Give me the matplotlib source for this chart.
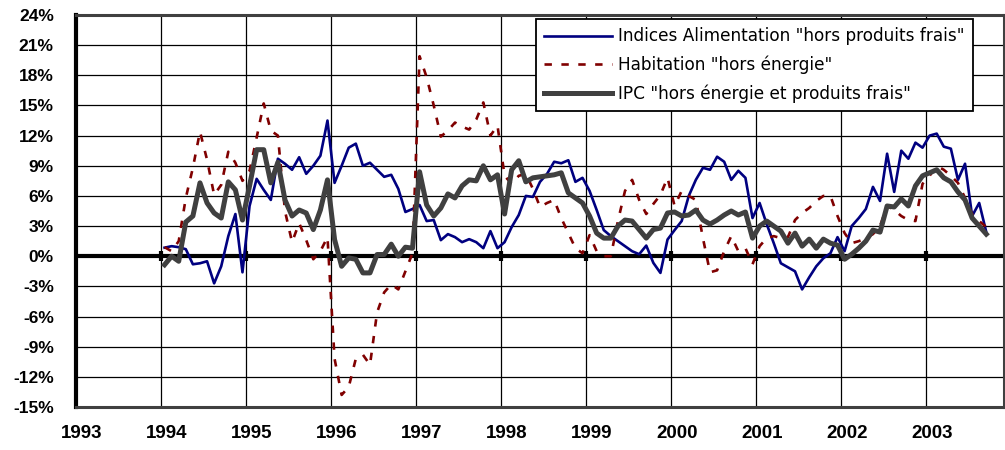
import numpy as np
import matplotlib
matplotlib.use('Agg')
import matplotlib.pyplot as plt
from matplotlib.transforms import ScaledTranslation

# monthly year-on-year changes (%), Jan 1994 -> Sep 2003
alimentation = [
    0.85, 1.0, 0.9, 0.7, -0.8, -0.7, -0.5, -2.7, -1.0, 2.0, 4.2, -1.6,      # 1994
    5.0, 7.7, 6.6, 5.6, 9.7, 9.2, 8.6, 9.85, 8.2, 9.0, 10.0, 13.5,         # 1995
    7.3, 9.0, 10.8, 11.2, 9.0, 9.3, 8.6, 7.9, 8.1, 6.7, 4.4, 4.7,          # 1996
    5.1, 3.5, 3.6, 1.6, 2.2, 1.9, 1.4, 1.7, 1.4, 0.8, 2.5, 0.8,            # 1997
    1.4, 2.9, 4.1, 6.0, 5.9, 7.4, 8.2, 9.4, 9.25, 9.55, 7.4, 7.8,          # 1998
    6.5, 4.6, 2.6, 2.0, 1.5, 1.0, 0.5, 0.2, 1.06, -0.66, -1.66, 1.66,      # 1999
    2.6, 3.5, 6.0, 7.6, 8.8, 8.6, 9.9, 9.4, 7.6, 8.5, 7.8, 3.8,            # 2000
    5.3, 3.2, 1.3, -0.7, -1.1, -1.5, -3.3, -2.1, -1.0, -0.2, 0.3, 1.9,     # 2001
    0.5, 3.0, 3.8, 4.7, 6.9, 5.5, 10.2, 6.4, 10.5, 9.7, 11.3, 10.8,        # 2002
    12.0, 12.2, 10.9, 10.7, 7.6, 9.2, 4.0, 5.3, 2.4,                       # 2003
]
habitation = [
    0.9, 0.5, 1.5, 5.8, 8.8, 12.4, 9.6, 6.1, 7.1, 10.4, 9.3, 7.5,
    8.5, 11.8, 15.2, 12.5, 12.0, 4.5, 1.4, 3.3, 1.6, -0.3, 0.5, 1.9,
    -10.2, -13.8, -13.0, -10.2, -9.8, -10.8, -5.6, -3.6, -2.8, -3.3, -1.5, 0.3,
    19.9, 17.8, 15.0, 11.9, 12.5, 13.3, 12.9, 12.6, 13.6, 15.3, 12.0, 13.0,
    8.0, 7.2, 8.0, 8.2, 6.7, 4.9, 5.3, 5.6, 3.8, 2.3, 0.8, 0.3,
    2.1, 0.5, 0.0, 0.0, 3.5, 6.5, 7.6, 5.6, 4.2, 5.2, 6.1, 7.8,
    5.0, 6.5, 6.0, 5.6, 1.8, -1.6, -1.4, 0.5, 2.0, 0.5, 0.8, -0.8,
    1.0, 1.8, 2.0, 1.8, 1.9, 3.6, 4.3, 4.8, 5.5, 6.0, 6.0, 4.0,
    2.3, 1.3, 1.5, 1.8, 2.2, 3.0, 5.0, 4.6, 4.0, 3.6, 3.5, 7.2,
    8.0, 9.0, 8.6, 8.0, 7.3, 5.8, 4.2, 3.5, 2.9,
]
ipc = [
    -0.85, 0.0, -0.5, 3.4, 4.0, 7.3, 5.3, 4.3, 3.8, 7.4, 6.6, 3.6,
    7.0, 10.6, 10.6, 7.3, 9.35, 5.6, 4.0, 4.6, 4.3, 2.65, 4.6, 7.6,
    1.66, -1.0, -0.17, -0.3, -1.66, -1.66, 0.17, 0.17, 1.2, 0.0, 0.9, 0.8,
    8.4, 5.1, 4.0, 4.8, 6.2, 5.8, 7.0, 7.6, 7.5, 9.0, 7.6, 8.1,
    4.2, 8.6, 9.5, 7.4, 7.8, 7.9, 8.0, 8.1, 8.3, 6.3, 5.8, 5.3,
    4.0, 2.3, 1.8, 1.8, 3.0, 3.6, 3.5, 2.65, 1.8, 2.65, 2.8, 4.3,
    4.4, 4.0, 4.1, 4.6, 3.6, 3.2, 3.6, 4.1, 4.5, 4.1, 4.4, 1.8,
    3.0, 3.5, 3.0, 2.5, 1.3, 2.3, 1.0, 1.7, 0.8, 1.7, 1.3, 1.1,
    -0.3, 0.2, 0.8, 1.5, 2.6, 2.4, 5.0, 4.9, 5.7, 5.0, 7.0, 8.0,
    8.3, 8.6, 7.8, 7.4, 6.4, 5.6, 3.8, 3.0, 2.2,
]
series_names = ['Indices Alimentation "hors produits frais"',
                'Habitation "hors énergie"',
                'IPC "hors énergie et produits frais"']
years = list(range(1993, 2004))
y_ticks = list(range(-15, 25, 3))

start = 1994
x = start + (np.arange(len(ipc)) + 0.5) / 12

fig = plt.figure(figsize=(10.05, 4.5), dpi=100)
ax = fig.add_axes([76 / 1005, 1 - 407 / 450, (1004 - 76) / 1005, (407 - 15) / 450])

ax.set_xlim(1993, 2003 + 11 / 12)
ax.set_ylim(-15, 24)

# grid
ax.set_xticks(years)
ax.set_yticks(y_ticks)
ax.grid(True, color='black', linewidth=0.9)
ax.set_axisbelow(True)

ax.plot(x, alimentation, color='#000080', lw=1.9, label=series_names[0], zorder=3)
ax.plot(x, habitation, color='#800000', lw=1.9, ls=(0, (2.8, 3.6)), label=series_names[1], zorder=3)
ax.plot(x, ipc, color='#404040', lw=3.6, label=series_names[2], zorder=4)

# zero line with year marks
ax.axhline(0, color='black', lw=3, zorder=2)
ax.plot(years[1:], [0] * len(years[1:]), ls='none', marker='|', ms=7, mew=3, color='black', zorder=2)

for side in ['top', 'right', 'bottom']:
    ax.spines[side].set_color('#404040')
    ax.spines[side].set_linewidth(2.2)
ax.spines['left'].set_color('black')
ax.spines['left'].set_linewidth(3)

ax.tick_params(length=0)
ax.tick_params(axis='y', pad=16)
ax.tick_params(axis='x', pad=13)
ax.set_yticklabels([f'{v}%' for v in y_ticks], fontsize=12.5, fontweight='bold', family='Liberation Sans')
ax.set_xticklabels([str(y) for y in years], fontsize=13.5, fontweight='bold', family='Liberation Sans')
shift = ScaledTranslation(6 / 100, 0, fig.dpi_scale_trans)
for lab in ax.get_xticklabels():
    lab.set_transform(lab.get_transform() + shift)

leg = ax.legend(loc='upper left', bbox_to_anchor=(536 / 1005, 1 - 19 / 450), bbox_transform=fig.transFigure,
                fancybox=False, edgecolor='black', framealpha=1, borderaxespad=0,
                handlelength=4.0, handletextpad=0.35, labelspacing=0.6, borderpad=0.5,
                prop={'family': 'DejaVu Sans', 'size': 12.2})
leg.get_frame().set_linewidth(1.3)
leg.set_zorder(10)

fig.savefig('out.png', dpi=100)
